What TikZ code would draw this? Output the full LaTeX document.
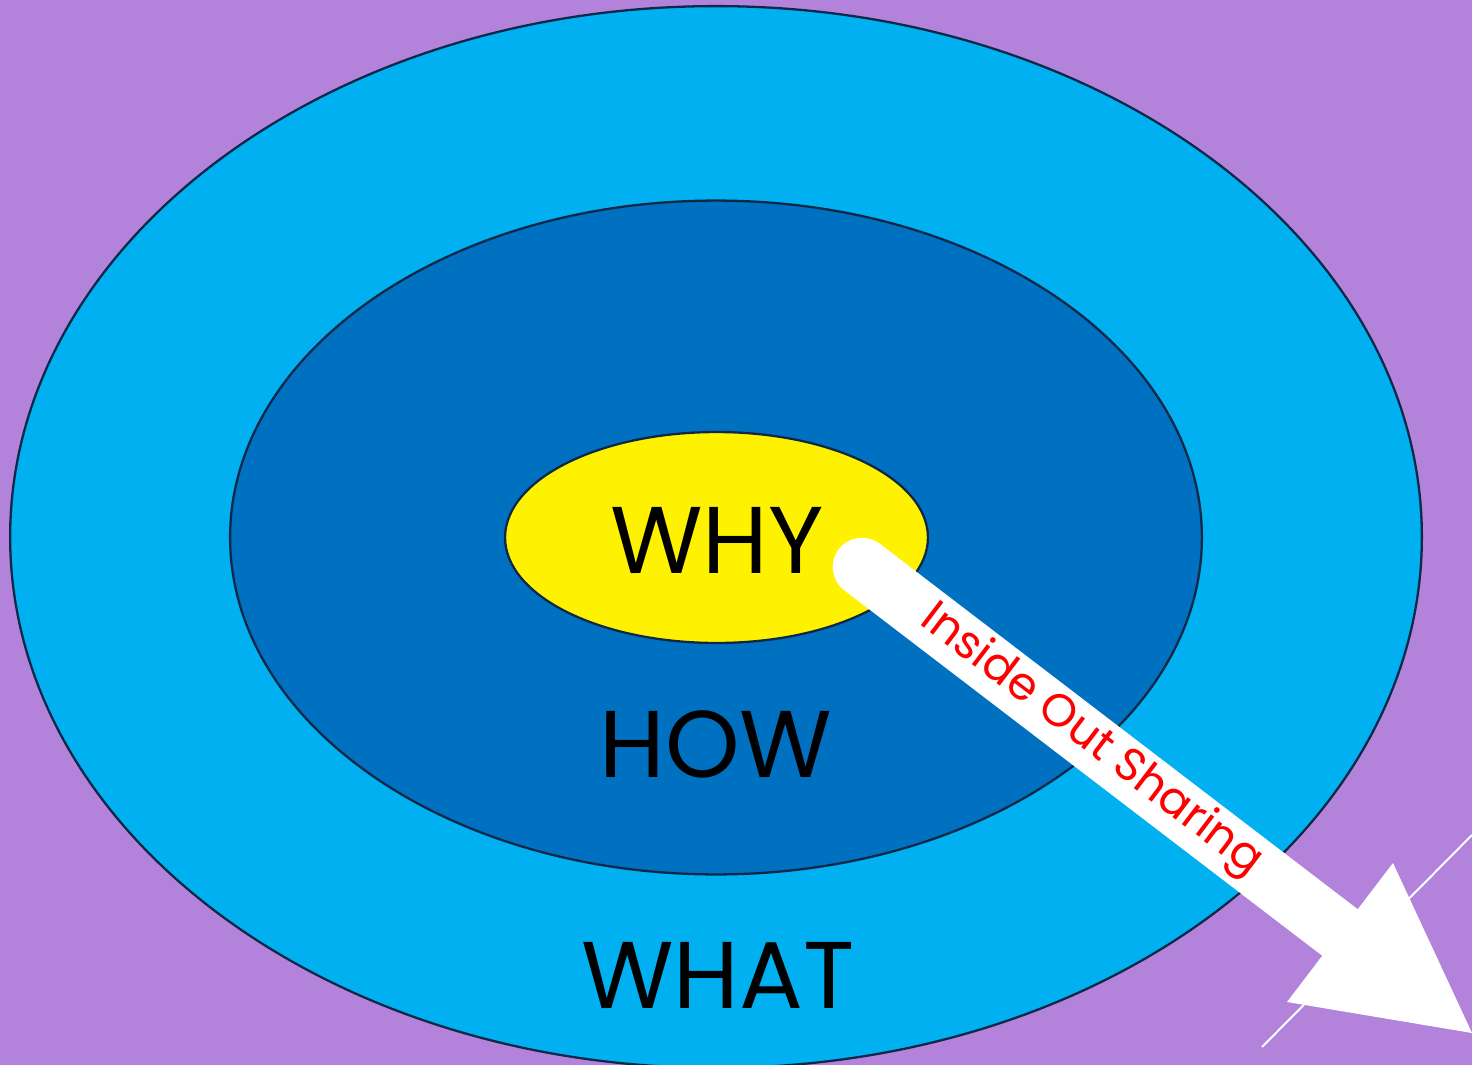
\documentclass[tikz,border=0pt]{standalone}
\usepackage{fontspec}
\setmainfont{Poppins}
\usetikzlibrary{shapes.geometric}
\definecolor{bgpurple}{RGB}{179,131,219}
\definecolor{lightblue}{RGB}{0,176,240}
\definecolor{darkblue}{RGB}{0,112,192}
\definecolor{rimcol}{RGB}{16,40,72}
\begin{document}
\begin{tikzpicture}[x=0.02cm,y=-0.02cm,
  ring/.style={ellipse,draw=rimcol,line width=1.3pt,inner sep=0pt,outer sep=0pt},
  word/.style={anchor=base,text=black,inner sep=0pt,font=\fontsize{54}{60}\selectfont},
  lbl/.style={text=red,inner sep=0pt,font=\fontsize{26}{30}\selectfont}]
\useasboundingbox (0,0) rectangle (1472,1065);
\clip (0,0) rectangle (1472,1065);
\fill[bgpurple] (0,0) rectangle (1472,1065);
\node[ring,fill=lightblue,minimum width=28.24cm,minimum height=21.24cm] (what) at (716,537) {};
\node[ring,fill=darkblue,minimum width=19.44cm,minimum height=13.48cm] (how) at (716,537.5) {};
\node[ring,fill=yellow,minimum width=8.46cm,minimum height=4.22cm] (why) at (716.5,537.5) {};
\node[word] (twhy) at (717,573) {WHY};
\node[word] (thow) at (716,777) {HOW};
\node[word] (twhat) at (718,1008) {WHAT};
% thin white line
\coordinate (la) at (1262,1047);
\coordinate (lb) at (1472,835);
\draw[white,line width=1.1pt] (la) -- (lb);
% arrow
\coordinate (as) at (862,567);
\coordinate (ab) at (1340,932.5);
\coordinate (h1) at (1393,863);
\coordinate (h2) at (1287,1002);
\coordinate (tip) at (1472,1033);
\draw[white,line width=1.17cm,line cap=round] (as) -- (ab);
\fill[white] (h1) -- (tip) -- (h2) -- cycle;
\node[lbl,rotate=-37.3,anchor=center] (tl) at (1091,741) {Inside Out Sharing};
\end{tikzpicture}
\end{document}
